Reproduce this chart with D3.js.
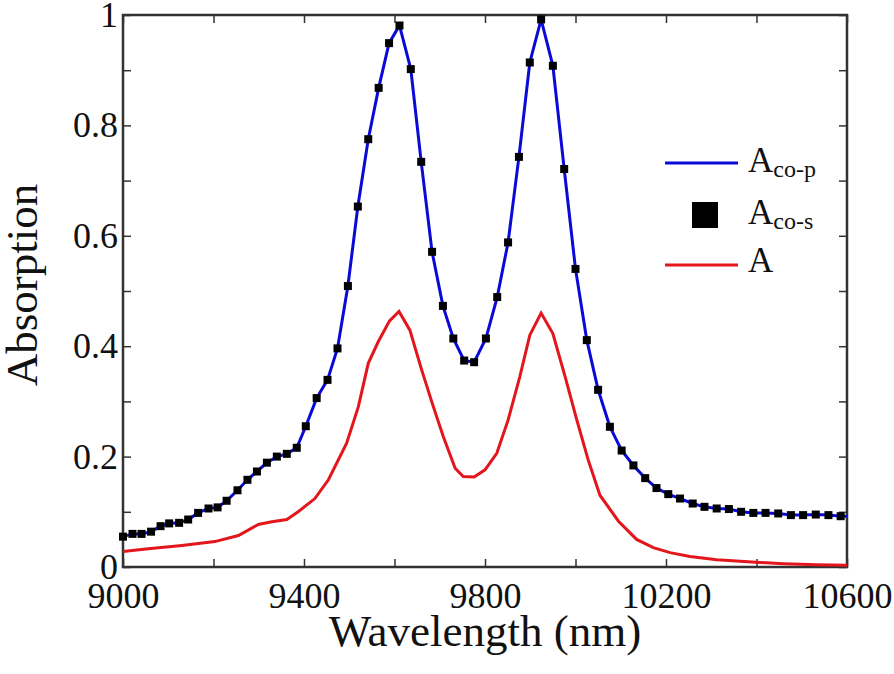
<!DOCTYPE html>
<html lang="en">
  <head>
    <title>Absorption</title>
    <script src="https://d3js.org/d3.v7.min.js"></script>
    <style>
      body
      {
        margin: 0;
        background: #fff;
      }
      svg text
      {
        font-family: "Liberation Serif", "Times New Roman", serif;
        fill: #111;
      }
      .axis path
      {
        display: none;
      }
      .axis line
      {
        stroke: #333;
        stroke-width: 1.5;
      }
    </style>
  </head>
  <body>
    <svg width="894" height="674"></svg>

    <script>
      var wlCo = [9000, 9021, 9041, 9062, 9083, 9102, 9124, 9144, 9166, 9189,
                  9209, 9229, 9253, 9275, 9296, 9318, 9340, 9362, 9384, 9404,
                  9428, 9452, 9474, 9497, 9519, 9542, 9565, 9588, 9611, 9636,
                  9659, 9683, 9707, 9730, 9754, 9776, 9802, 9827, 9851, 9875,
                  9899, 9924, 9950, 9975, 10000, 10025, 10050, 10076, 10102, 10128,
                  10154, 10179, 10205, 10231, 10259, 10285, 10312, 10339, 10366, 10393,
                  10420, 10448, 10476, 10503, 10531, 10559, 10586, 10600];

      var aCoP = [0.055, 0.060, 0.060, 0.064, 0.074, 0.079, 0.080, 0.086, 0.098, 0.106,
                  0.108, 0.120, 0.139, 0.158, 0.173, 0.189, 0.200, 0.205, 0.216, 0.255,
                  0.306, 0.339, 0.396, 0.509, 0.653, 0.775, 0.868, 0.949, 0.981, 0.902,
                  0.734, 0.571, 0.473, 0.414, 0.374, 0.371, 0.414, 0.489, 0.588, 0.743,
                  0.914, 0.992, 0.908, 0.721, 0.540, 0.411, 0.321, 0.254, 0.211, 0.184,
                  0.161, 0.143, 0.132, 0.124, 0.115, 0.109, 0.106, 0.105, 0.100, 0.098,
                  0.098, 0.097, 0.094, 0.094, 0.095, 0.094, 0.092, 0.092];

      // the square markers stop one sample before the frame
      var aCoS = [0.055, 0.060, 0.060, 0.064, 0.074, 0.079, 0.080, 0.086, 0.098, 0.106,
                  0.108, 0.120, 0.139, 0.158, 0.173, 0.189, 0.200, 0.205, 0.216, 0.255,
                  0.306, 0.339, 0.396, 0.509, 0.653, 0.775, 0.868, 0.949, 0.981, 0.902,
                  0.734, 0.571, 0.473, 0.414, 0.374, 0.371, 0.414, 0.489, 0.588, 0.743,
                  0.914, 0.992, 0.908, 0.721, 0.540, 0.411, 0.321, 0.254, 0.211, 0.184,
                  0.161, 0.143, 0.132, 0.124, 0.115, 0.109, 0.106, 0.105, 0.100, 0.098,
                  0.098, 0.097, 0.094, 0.094, 0.095, 0.094, 0.092];

      var wlA = [9000, 9056, 9130, 9203, 9255, 9299, 9329, 9362, 9387, 9424,
                 9454, 9494, 9520, 9542, 9564, 9589, 9610, 9634, 9660, 9686,
                 9708, 9734, 9752, 9776, 9800, 9826, 9851, 9877, 9899, 9924,
                 9950, 9977, 10003, 10028, 10054, 10095, 10135, 10172, 10209, 10253,
                 10312, 10390, 10460, 10533, 10600];
      var aA = [0.028, 0.033, 0.039, 0.046, 0.057, 0.077, 0.082, 0.086, 0.100, 0.124,
                0.158, 0.224, 0.290, 0.369, 0.408, 0.446, 0.463, 0.429, 0.357, 0.290,
                0.236, 0.179, 0.164, 0.163, 0.176, 0.206, 0.266, 0.345, 0.420, 0.460,
                0.423, 0.345, 0.266, 0.194, 0.130, 0.083, 0.050, 0.035, 0.026, 0.019,
                0.013, 0.009, 0.006, 0.004, 0.003];

      var xTickLabels = [9000, 9400, 9800, 10200, 10600];
      var xTicksAll = [9000, 9200, 9400, 9600, 9800, 10000, 10200, 10400, 10600];
      var yTickLabels = [0, 0.2, 0.4, 0.6, 0.8, 1];
      var yTicksAll = [0, 0.1, 0.2, 0.3, 0.4, 0.5, 0.6, 0.7, 0.8, 0.9, 1];

      var legendNames = [["A", "co-p"], ["A", "co-s"], ["A", ""]];

      var plotL = 123, plotR = 847, plotT = 15, plotB = 567;
      var blue = "#0a0ad8", red = "#e3161c";

      var svg = d3.select("svg");
      var x = d3.scaleLinear().domain([9000, 10600]).range([plotL, plotR]);
      var y = d3.scaleLinear().domain([0, 1]).range([plotB, plotT]);

      // ticks point into the plot on all four sides
      svg.append("g").attr("class", "axis").attr("transform", "translate(0," + plotB + ")")
         .call(d3.axisBottom(x).tickValues(xTicksAll).tickSizeInner(-8).tickSizeOuter(0)
                 .tickFormat(function(d){ return xTickLabels.indexOf(d) >= 0 ? d : ""; }))
         .selectAll("text").attr("y", 41).attr("dy", 0).style("font-size", "36px");

      svg.append("g").attr("class", "axis").attr("transform", "translate(0," + plotT + ")")
         .call(d3.axisTop(x).tickValues(xTicksAll).tickSizeInner(-8).tickSizeOuter(0).tickFormat(""));

      svg.append("g").attr("class", "axis").attr("transform", "translate(" + plotL + ",0)")
         .call(d3.axisLeft(y).tickValues(yTicksAll).tickSizeInner(-8).tickSizeOuter(0).tickPadding(5)
                 .tickFormat(function(d){ return yTickLabels.indexOf(d) >= 0 ? d : ""; }))
         .selectAll("text").style("font-size", "36px");

      svg.append("g").attr("class", "axis").attr("transform", "translate(" + plotR + ",0)")
         .call(d3.axisRight(y).tickValues(yTicksAll).tickSizeInner(-8).tickSizeOuter(0).tickFormat(""));

      svg.append("rect")
         .attr("x", plotL).attr("y", plotT)
         .attr("width", plotR - plotL).attr("height", plotB - plotT)
         .attr("fill", "none").attr("stroke", "#333").attr("stroke-width", 2.5);

      var line = d3.line()
                   .x(function(d){ return x(d[0]); })
                   .y(function(d){ return y(d[1]); });

      svg.append("path")
         .datum(d3.zip(wlCo, aCoP))
         .attr("d", line)
         .attr("fill", "none").attr("stroke", blue).attr("stroke-width", 3);

      svg.append("path")
         .datum(d3.zip(wlA, aA))
         .attr("d", line)
         .attr("fill", "none").attr("stroke", red).attr("stroke-width", 3);

      svg.append("g").selectAll("rect")
         .data(d3.zip(wlCo, aCoS))
         .enter().append("rect")
         .attr("x", function(d){ return x(d[0]) - 4; })
         .attr("y", function(d){ return y(d[1]) - 4; })
         .attr("width", 8).attr("height", 8)
         .attr("fill", "#000");

      // axis titles
      svg.append("text")
         .attr("transform", "translate(37,285) rotate(-90)")
         .attr("text-anchor", "middle")
         .style("font-size", "45px")
         .text("Absorption");

      svg.append("text")
         .attr("x", (plotL + plotR) / 2).attr("y", 646)
         .attr("text-anchor", "middle")
         .style("font-size", "45px")
         .text("Wavelength (nm)");

      // legend
      var legend = svg.append("g");
      legend.append("line").attr("x1", 665).attr("x2", 738).attr("y1", 163).attr("y2", 163)
            .attr("stroke", blue).attr("stroke-width", 3);
      legend.append("rect").attr("x", 692).attr("y", 202).attr("width", 26).attr("height", 26)
            .attr("fill", "#000");
      legend.append("line").attr("x1", 665).attr("x2", 738).attr("y1", 265).attr("y2", 265)
            .attr("stroke", red).attr("stroke-width", 3);

      var legendY = [172, 224, 272];
      legendNames.forEach(function(n, i){
        var t = legend.append("text").attr("x", 748).attr("y", legendY[i]).style("font-size", "35px");
        t.append("tspan").text(n[0]);
        if (n[1]) t.append("tspan").attr("dy", 5).style("font-size", "24px").text(n[1]);
      });
    </script>
  </body>
</html>
